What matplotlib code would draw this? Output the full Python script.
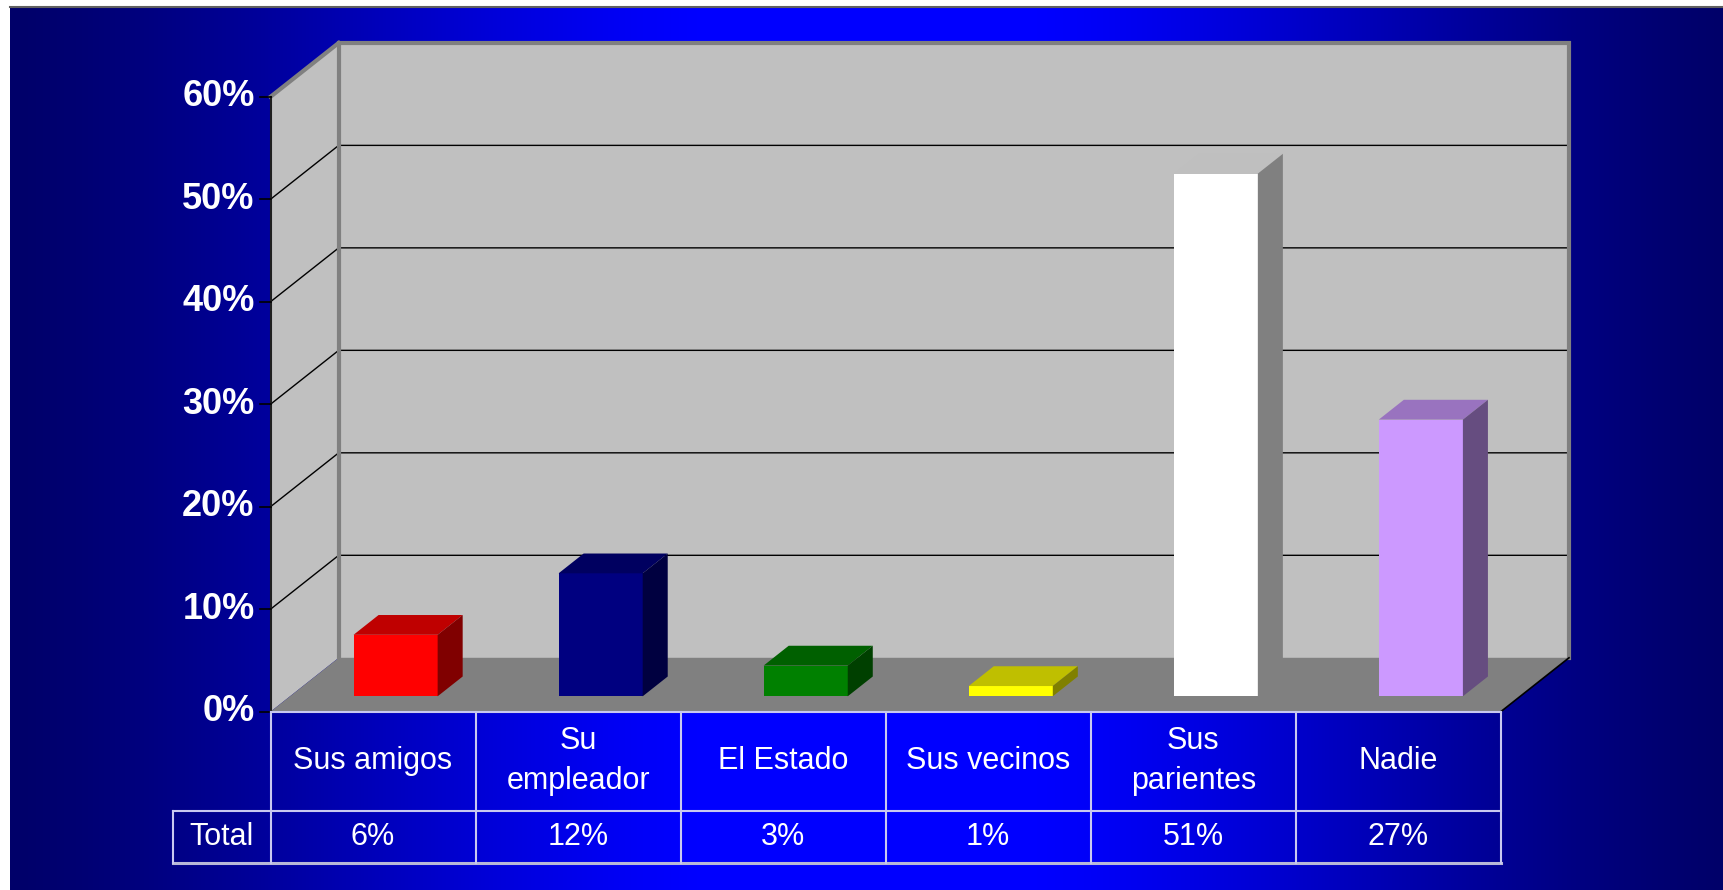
import numpy as np
import matplotlib
matplotlib.use('Agg')
import matplotlib.pyplot as plt
from matplotlib.patches import Polygon
from matplotlib.lines import Line2D

# ---- data ----
categories = ['Sus amigos', 'Su\nempleador', 'El Estado', 'Sus vecinos', 'Sus\nparientes', 'Nadie']
values = [6, 12, 3, 1, 51, 27]
value_labels = ['6%', '12%', '3%', '1%', '51%', '27%']
row_label = 'Total'
yticks = [0, 10, 20, 30, 40, 50, 60]
ytick_labels = ['0%', '10%', '20%', '30%', '40%', '50%', '60%']
front_colors = [(255, 0, 0), (0, 0, 128), (0, 128, 0), (255, 255, 0), (255, 255, 255), (204, 153, 255)]

plt.rcParams['font.family'] = ['Liberation Sans', 'DejaVu Sans']

W, H = 1724, 890
fig = plt.figure(figsize=(W / 100, H / 100), dpi=100, facecolor='white')

# background gradient
bg = fig.add_axes([10 / W, 0, 1 - 10 / W, 1 - 7 / H])
xs = np.linspace(0, 1, 800)
t = np.clip((1 - np.abs(2 * xs - 1)) * 1.25, 0, 1)
t = t * t * (3 - 2 * t) * 0.5 + t * 0.5
lo = np.array([0, 0, 105]) / 255
hi = np.array([0, 0, 255]) / 255
grad = lo + (hi - lo) * t[:, None]
bg.imshow(grad[None, :, :], aspect='auto', extent=[0, 1, 0, 1], interpolation='bilinear')
bg.axis('off')
fig.add_artist(Line2D([10 / W, 1], [1 - 7 / H] * 2, color='#606060', lw=1.5))

# main axes: front plane of the 3D box
ax = fig.add_axes([270.5 / W, 1 - 711.7 / H, (1500.8 - 270.5) / W, (711.7 - 96.8) / H])
ax.set_xlim(0, 6)
ax.set_ylim(0, 60)
ax.axis('off')

n = len(categories)
YMAX = yticks[-1]
DX, DY = 0.3326, 5.26  # full depth offset in data units

def poly(pts, fc, z, ec='none', lw=0):
    ax.add_patch(Polygon(pts, closed=True, facecolor=fc, edgecolor=ec, lw=lw, zorder=z, clip_on=False))

# walls and floor
poly([(0, 0), (0, YMAX), (DX, YMAX + DY), (DX, DY)], '#C0C0C0', 1)
poly([(DX, DY), (n + DX, DY), (n + DX, YMAX + DY), (DX, YMAX + DY)], '#C0C0C0', 1)
poly([(0, 0), (n, 0), (n + DX, DY), (DX, DY)], '#808080', 1)

for y in yticks[1:-1]:
    ax.plot([0, DX, n + DX], [y, y + DY, y + DY], color='black', lw=1, zorder=2, clip_on=False)

ax.plot([DX, DX, n + DX, n + DX], [DY, YMAX + DY, YMAX + DY, DY], color='#808080', lw=3,
        zorder=2, clip_on=False, solid_joinstyle='miter')
ax.plot([0, DX], [YMAX, YMAX + DY], color='#808080', lw=3, zorder=2, clip_on=False)
ax.plot([n, n + DX], [0, DY], color='black', lw=1.2, zorder=2, clip_on=False)
ax.plot([0, 0], [0, YMAX], color='#202020', lw=1.5, zorder=3, clip_on=False)

tick = 0.05
for y, lab in zip(yticks, ytick_labels):
    ax.plot([-tick, 0], [y, y], color='black', lw=1.2, zorder=3, clip_on=False)
    ax.text(-0.078, y, lab, ha='right', va='center', fontsize=26, fontweight='bold',
            color='white', zorder=5, clip_on=False)

# bars
F1, F2 = 0.286, 0.653
bw = 0.41
base = F1 * DY
ddx = (F2 - F1) * DX
ddy = (F2 - F1) * DY
centers = [i + F1 * DX + 0.515 for i in range(n)]
fc_front = [tuple(c / 255 for c in col) for col in front_colors]
ax.bar(centers, values, width=bw, bottom=base, color=fc_front, edgecolor='none',
       zorder=4, clip_on=False)
for xc, v, col in zip(centers, values, front_colors):
    x0, x1 = xc - bw / 2, xc + bw / 2
    top = tuple(c * 0.75 / 255 for c in col)
    side = tuple(c * 0.5 / 255 for c in col)
    poly([(x0, base + v), (x1, base + v), (x1 + ddx, base + v + ddy), (x0 + ddx, base + v + ddy)], top, 4)
    poly([(x1, base), (x1, base + v), (x1 + ddx, base + v + ddy), (x1 + ddx, base + ddy)], side, 4)

# data table
R1, R2 = 9.66, 14.81
HX = -0.477
lc = '#C8C8F0'
tl = dict(color=lc, lw=1.5, zorder=6, clip_on=False)
ax.plot([0, n], [0, 0], **tl)
ax.plot([HX, n], [-R1, -R1], **tl)
ax.plot([HX, n], [-R2, -R2], color='#B8B8D8', lw=2.2, zorder=6, clip_on=False)
for i in range(n + 1):
    ax.plot([i, i], [0, -R2], **tl)
ax.plot([HX, HX], [-R1, -R2], **tl)

for i, (cat, vl) in enumerate(zip(categories, value_labels)):
    ax.text(i + 0.5, -R1 / 2, cat, ha='center', va='center', fontsize=22, color='white',
            linespacing=1.45, zorder=7, clip_on=False)
    ax.text(i + 0.5, -(R1 + R2) / 2, vl, ha='center', va='center', fontsize=22, color='white',
            zorder=7, clip_on=False)
ax.text(HX / 2, -(R1 + R2) / 2, row_label, ha='center', va='center', fontsize=22, color='white',
        zorder=7, clip_on=False)

fig.savefig('out.png', dpi=100, facecolor='white')
